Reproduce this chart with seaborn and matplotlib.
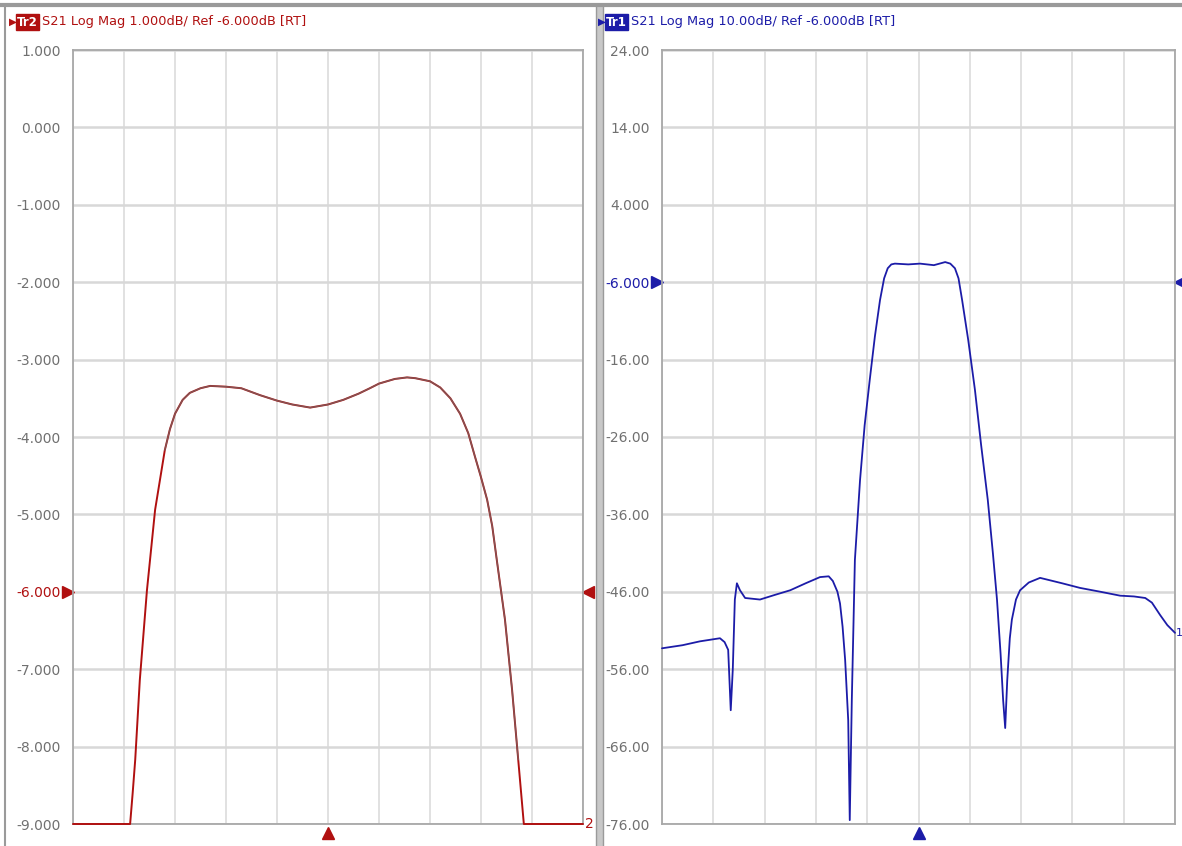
import matplotlib
matplotlib.use("Agg")
import matplotlib.pyplot as plt
import seaborn as sns
import pandas as pd
import numpy as np

# --- data (x in grid divisions 0..10) ---
left_div = [0.0, 1.0, 1.12, 1.17, 1.22, 1.31, 1.45, 1.61, 1.80, 1.90, 2.00, 2.15, 2.29, 2.50,
            2.69, 3.00, 3.30, 3.67, 4.00, 4.30, 4.65, 5.00, 5.30, 5.60, 5.82, 6.00, 6.31,
            6.55, 6.71, 7.00, 7.20, 7.40, 7.59, 7.75, 7.88, 8.00, 8.12, 8.22, 8.31, 8.47,
            8.61, 8.73, 8.84, 9.0, 10.0]
left_db = [-9.0, -9.0, -9.0, -8.60, -8.17, -7.14, -5.98, -4.94, -4.17, -3.90, -3.70, -3.52,
           -3.43, -3.37, -3.34, -3.35, -3.37, -3.46, -3.53, -3.58, -3.62, -3.58, -3.52, -3.44,
           -3.37, -3.31, -3.25, -3.23, -3.24, -3.28, -3.36, -3.50, -3.70, -3.95, -4.25,
           -4.52, -4.81, -5.15, -5.59, -6.36, -7.27, -8.17, -9.0, -9.0, -9.0]

right_div = [0.0, 0.40, 0.74, 1.13, 1.22, 1.29, 1.34, 1.38, 1.42, 1.46, 1.52, 1.62, 1.91,
             2.20, 2.50, 2.80, 3.08, 3.25, 3.33, 3.42, 3.47, 3.52, 3.57, 3.63, 3.66, 3.70,
             3.76, 3.86, 3.95, 4.05, 4.15, 4.25, 4.33, 4.40, 4.47, 4.54, 4.80, 5.03, 5.30,
             5.52, 5.62, 5.71, 5.78, 5.85, 5.97, 6.10, 6.22, 6.35, 6.45, 6.53, 6.60, 6.65,
             6.69, 6.73, 6.78, 6.82, 6.90, 6.98, 7.15, 7.37, 7.80, 8.15, 8.55, 8.93, 9.20,
             9.42, 9.55, 9.71, 9.85, 10.0]
right_db = [-53.3, -52.9, -52.4, -52.0, -52.5, -53.5, -61.3, -56.0, -47.0, -44.9, -45.8,
            -46.8, -47.0, -46.4, -45.8, -44.9, -44.1, -44.0, -44.6, -46.0, -47.5, -50.5,
            -54.8, -62.6, -75.5, -60.0, -41.9, -31.6, -24.5, -18.6, -13.0, -8.3, -5.5, -4.2,
            -3.7, -3.6, -3.7, -3.6, -3.8, -3.4, -3.6, -4.2, -5.5, -8.3, -13.5, -19.9, -27.0,
            -34.1, -41.0, -47.0, -54.0, -60.0, -63.6, -57.4, -52.0, -49.6, -47.0, -45.8,
            -44.8, -44.2, -44.9, -45.5, -46.0, -46.5, -46.6, -46.8, -47.4, -49.0, -50.3,
            -51.3]

left_ticks = [1, 0, -1, -2, -3, -4, -5, -6, -7, -8, -9]
left_labels = ["1.000", "0.000", "-1.000", "-2.000", "-3.000", "-4.000", "-5.000",
               "-6.000", "-7.000", "-8.000", "-9.000"]
right_ticks = [24, 14, 4, -6, -16, -26, -36, -46, -56, -66, -76]
right_labels = ["24.00", "14.00", "4.000", "-6.000", "-16.00", "-26.00", "-36.00",
                "-46.00", "-56.00", "-66.00", "-76.00"]

RED = "#b01010"
BLUE = "#1c1ca8"
GRID = "#d8d8d8"
TXT = "#707070"

sns.set_style("white")
plt.rcParams['font.family'] = ['DejaVu Sans']

W, H = 1182, 846
fig = plt.figure(figsize=(W / 100, H / 100), dpi=100)


def px_axes(x0, x1, y0, y1):
    return fig.add_axes([x0 / W, 1 - y1 / H, (x1 - x0) / W, (y1 - y0) / H])


def setup(ax, ticks, labels, color, head):
    ax.set_xlim(0, 10)
    ax.set_ylim(ticks[-1], ticks[0])
    ax.set_xticks(range(11))
    ax.set_xticklabels([])
    ax.set_yticks(ticks)
    ax.set_yticklabels(labels)
    ax.tick_params(axis="y", length=0, pad=9, labelsize=10, labelcolor=TXT)
    ax.tick_params(axis="x", length=0)
    for lab, t in zip(ax.get_yticklabels(), ticks):
        if t == -6:
            lab.set_color(color)
    ax.grid(True, axis="x", color=GRID, lw=1.1)
    ax.grid(True, axis="y", color=GRID, lw=1.8)
    ax.set_axisbelow(True)
    for s in ax.spines.values():
        s.set_color("#a8a8a8")
        s.set_linewidth(1.3)
    ax.set_xlabel("")
    ax.set_ylabel("")
    for ln in ax.get_lines():
        ln.set_clip_on(False)
        ln.set_zorder(5)
    # reference markers
    tr = ax.get_yaxis_transform()
    ax.plot([-0.009], [-6], marker=">", ms=9, color=color, transform=tr, clip_on=False)
    ax.plot([1.009], [-6], marker="<", ms=9, color=color, transform=tr, clip_on=False)
    ax.plot([5], [-0.012], marker="^", ms=9, color=color,
            transform=ax.get_xaxis_transform(), clip_on=False)
    # header
    x0 = ax.get_position().x0
    fig.text(x0 - 64 / W, 1 - 22 / H, "\u25B6", color=color, fontsize=7.5,
             va="center", ha="left")
    fig.text(x0 - 56 / W, 1 - 22 / H, head[0], color="white", fontsize=8.5,
             fontweight="bold", va="center", ha="left",
             bbox=dict(boxstyle="square,pad=0.12", fc=color, ec=color))
    fig.text(x0 - 31 / W, 1 - 22 / H, head[1], color=color, fontsize=9.3,
             va="center", ha="left", family=['Liberation Sans Narrow', 'DejaVu Sans'])


# left screen
ax1 = px_axes(73, 583, 50, 824)
df1 = pd.DataFrame({"div": left_div, "dB": left_db})
sns.lineplot(data=df1, x="div", y="dB", ax=ax1, color=RED, lw=1.4,
             sort=False, estimator=None)
sns.lineplot(data=df1[(df1["div"] > 1.7) & (df1["div"] < 8.8)], x="div", y="dB",
             ax=ax1, color="#707070", lw=1.0, alpha=0.7, sort=False, estimator=None)
setup(ax1, left_ticks, left_labels, RED,
      ("Tr2", "S21 Log Mag 1.000dB/ Ref -6.000dB [RT]"))
ax1.text(1.004, -9, "2", color=RED, fontsize=10, va="center", ha="left",
         transform=ax1.get_yaxis_transform())

# right screen
ax2 = px_axes(662, 1175, 50, 824)
df2 = pd.DataFrame({"div": right_div, "dB": right_db})
sns.lineplot(data=df2, x="div", y="dB", ax=ax2, color=BLUE, lw=1.3,
             sort=False, estimator=None)
setup(ax2, right_ticks, right_labels, BLUE,
      ("Tr1", "S21 Log Mag 10.00dB/ Ref -6.000dB [RT]"))
ax2.text(1.001, right_db[-1], "1", color=BLUE, fontsize=8, va="center", ha="left",
         transform=ax2.get_yaxis_transform())

# screen frame
fig.add_artist(plt.Line2D([0, 1], [1 - 5 / H, 1 - 5 / H], color="#9a9a9a", lw=3))
fig.add_artist(plt.Line2D([5 / W, 5 / W], [0, 1 - 5 / H], color="#9a9a9a", lw=1.5))
fig.add_artist(plt.Rectangle((596 / W, 0), 7 / W, 1 - 5 / H, color="#c8c8c8", lw=0))
fig.add_artist(plt.Line2D([596 / W, 596 / W], [0, 1 - 5 / H], color="#9a9a9a", lw=1))
fig.add_artist(plt.Line2D([603 / W, 603 / W], [0, 1 - 5 / H], color="#9a9a9a", lw=1))

fig.savefig("out.png", dpi=100)
